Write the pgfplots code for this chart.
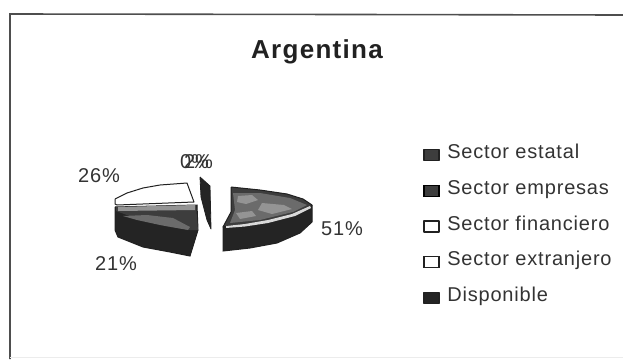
\documentclass[border=0pt]{standalone}
\usepackage{fontspec}
\setmainfont{Liberation Sans}
\newfontfamily\spaced[LetterSpace=4]{Liberation Sans}
\newfontfamily\titlefont[LetterSpace=5]{Liberation Sans Bold}
\usepackage{pgfplots}
\pgfplotsset{compat=1.18}
\definecolor{inkdark}{gray}{0.13}
\definecolor{sidedark}{gray}{0.14}
\definecolor{facegray}{gray}{0.24}
\definecolor{facemid}{gray}{0.42}
\definecolor{fleck}{gray}{0.58}
\definecolor{facelight}{gray}{0.85}
\definecolor{textgray}{gray}{0.2}
\begin{document}
\begin{tikzpicture}
\useasboundingbox (0,0) rectangle (623pt,359pt);
\begin{axis}[
  at={(0,0)}, anchor=south west,
  scale only axis, width=623pt, height=359pt,
  xmin=0, xmax=623, ymin=0, ymax=359, y dir=reverse,
  axis lines=none, clip=false,
  legend cell align=left,
  legend style={at={(axis cs:423,144.5)}, anchor=north west, draw=none, fill=none,
    font=\fontsize{20}{20}\selectfont\spaced\color{textgray},
    row sep=17.7pt, inner sep=0pt,
    nodes={inner sep=0pt, text height=14pt, text depth=4pt}},
  legend image code/.code={
    \draw[#1, line width=1.3pt] (0pt,-7pt) rectangle (15pt,4pt);
    \path (23pt,0pt);},
]
% outer frame of the chart
\addplot[draw=inkdark!80!white, line width=1.6pt, forget plot] coordinates {(10,359) (10,14) (350,14.5) (623,15)};
\addplot[draw=gray!15, line width=.7pt, forget plot] coordinates {(10,357) (623,357)};

% Sector estatal, 51 %: side wall, then top face
\addplot[fill=sidedark, draw=inkdark, line width=1pt, forget plot] coordinates {
 (312,205) (312,222) (300,233) (277,243) (250,248) (223,251) (223,227) (312,205)};
\addplot[fill=facegray, draw=inkdark, line width=1pt, line join=round] coordinates {
 (231,187) (260,190) (287,194) (303,199) (312,205) (308,210) (293,216) (267,222)
 (247,225) (227,226) (223,227) (231,212) (231,187)};
\addlegendentry{Sector estatal}
\addplot[fill=facemid, draw=none, forget plot] coordinates {
 (233,193) (260,193) (290,198) (307,205) (293,212) (260,220) (230,223) (235,210)};
\addplot[fill=fleck, draw=none, forget plot] coordinates {
 (238,196) (252,195) (258,200) (246,204) (237,202)};
\addplot[fill=fleck, draw=none, forget plot] coordinates {
 (262,203) (284,205) (292,209) (272,214) (258,210)};
\addplot[fill=fleck, draw=none, forget plot] coordinates {
 (236,213) (252,211) (256,216) (240,219)};
\addplot[fill=facelight, draw=none, forget plot] coordinates {
 (226,226) (245,224) (268,220) (292,214) (310,206) (311,208) (295,216) (268,223) (245,226.5) (226,228)};

% Sector empresas, 21 %: side wall, then top face
\addplot[fill=sidedark, draw=inkdark, line width=1pt, forget plot] coordinates {
 (115,207) (115,230) (118,237) (143,247) (170,252) (190,256) (198,230) (197,205) (115,207)};
\addplot[fill=facegray, draw=none] coordinates {
 (116,207) (196,205) (198,230) (190,230) (165,226) (135,218) (116,211)};
\addlegendentry{Sector empresas}
\addplot[fill=fleck, draw=none, forget plot] coordinates {
 (118,207) (195,205) (195,210) (118,211)};
\addplot[fill=facemid, draw=none, forget plot] coordinates {
 (123,216) (147,215) (173,218) (190,227) (188,230) (160,225) (137,220)};

% Sector financiero, 26 %: white top face
\addplot[fill=white, draw=inkdark, line width=1pt, line join=round] coordinates {
 (115,199) (127,193) (143,188) (160,185) (187,183) (194,202) (117,205) (115,204) (115,199)};
\addlegendentry{Sector financiero}

% Sector extranjero, 0 %: an empty slice with no visible area
\addplot[fill=white, draw=inkdark, line width=1pt] coordinates {(200,177) (200,177)};
\addlegendentry{Sector extranjero}

% Disponible, 2 %: thin detached wedge
\addplot[fill=sidedark, draw=inkdark, line width=.8pt, line join=round] coordinates {
 (200,177) (210,186) (211,229) (207,220) (201,197) (200,177)};
\addlegendentry{Disponible}

% Title and percentages
\node[font=\fontsize{26}{26}\selectfont\titlefont, text=inkdark, anchor=base] at (axis cs:317,58) {Argentina};
\node[font=\fontsize{20}{20}\selectfont\spaced, text=textgray] at (axis cs:99,176) {26\%};
\node[font=\fontsize{20}{20}\selectfont\spaced, text=textgray] at (axis cs:342,229) {51\%};
\node[font=\fontsize{20}{20}\selectfont\spaced, text=textgray] at (axis cs:116,264) {21\%};
\node[font=\fontsize{20}{20}\selectfont, text=textgray] at (axis cs:194.5,162) {0\%};
\node[font=\fontsize{20}{20}\selectfont, text=textgray] at (axis cs:198.5,162) {2\%};
\end{axis}
\end{tikzpicture}
\end{document}
